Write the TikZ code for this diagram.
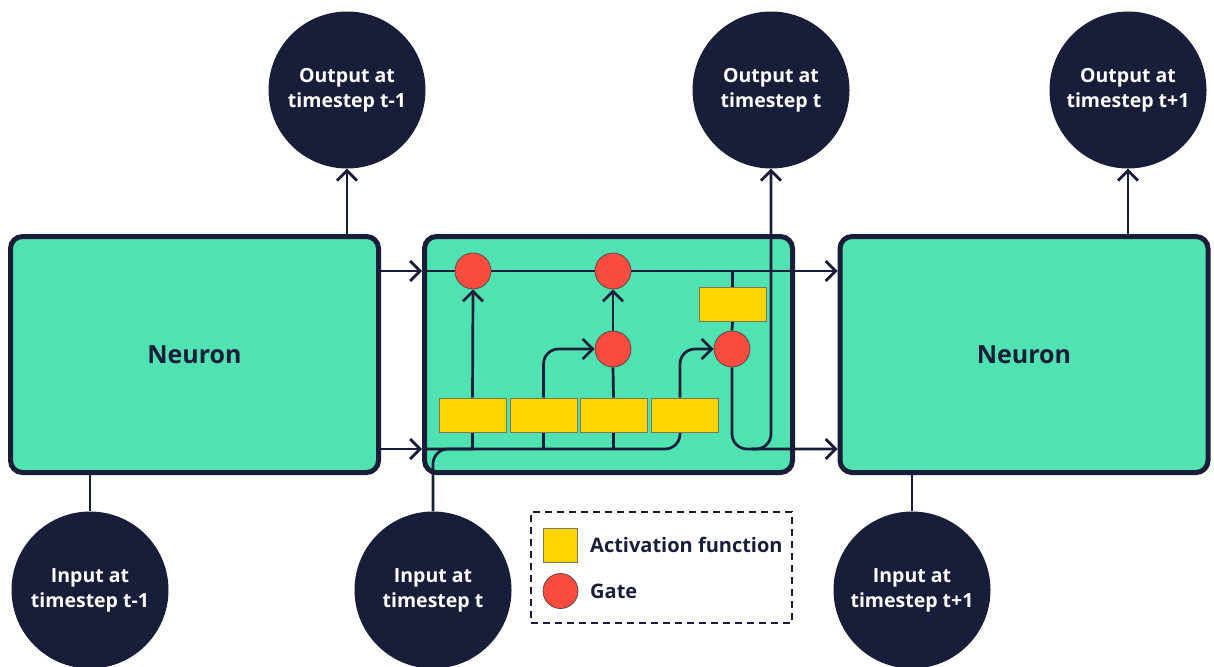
\documentclass[tikz,border=0pt]{standalone}
\usepackage{fontspec}
\setmainfont{Open Sans}
\usetikzlibrary{arrows.meta}
\pgfdeclarelayer{back}
\pgfdeclarelayer{wires}
\pgfsetlayers{back,wires,main}
\definecolor{navy}{RGB}{24,30,58}
\definecolor{mint}{RGB}{80,226,176}
\definecolor{gatered}{RGB}{250,76,62}
\definecolor{gateedge}{RGB}{95,70,80}
\definecolor{actyellow}{RGB}{255,212,0}
\definecolor{actedge}{RGB}{120,120,95}
\begin{document}
\begin{tikzpicture}[x=1pt,y=-1pt,
  neuron/.style={draw=navy, fill=mint, line width=5pt, rounded corners=12pt,
    minimum width=368pt, minimum height=236pt, inner sep=0pt,
    text=navy, font=\bfseries\fontsize{25}{30}\selectfont},
  bubble/.style={circle, fill=navy, minimum size=157pt, inner sep=0pt,
    text=white, align=center, font=\bfseries\fontsize{19.5}{25}\selectfont},
  gate/.style={circle, fill=gatered, draw=gateedge, line width=0.8pt,
    minimum size=36pt, inner sep=0pt},
  act/.style={rectangle, fill=actyellow, draw=actedge, line width=0.8pt,
    minimum width=67pt, minimum height=34pt, inner sep=0pt},
  wire/.style={draw=navy, line width=2.7pt, line join=round},
  flow/.style={wire, -{Straight Barb[length=10pt,width=20pt,line width=2.7pt]}},
  legendtext/.style={anchor=west, text=navy, inner sep=0pt,
    font=\bfseries\fontsize{20}{24}\selectfont}]
\useasboundingbox (0,0) rectangle (1214,666);

% neuron cells
\begin{pgfonlayer}{back}
  \node[neuron] (L) at (194.5,354.5) {Neuron};
  \node[neuron] (M) at (608.5,354.5) {};
  \node[neuron] (R) at (1024,354.5) {Neuron};
\end{pgfonlayer}

% outputs and inputs
\node[bubble] (O1) at (347,90) {Output at\\timestep t-1};
\node[bubble] (O2) at (771,90) {Output at\\timestep t};
\node[bubble] (O3) at (1128,90) {Output at\\timestep t+1};
\node[bubble] (I1) at (90,590) {Input at\\timestep t-1};
\node[bubble] (I2) at (433,590) {Input at\\timestep t};
\node[bubble] (I3) at (912,590) {Input at\\timestep t+1};

% gates and activation functions inside the cell
\node[gate] (g1) at (473,271) {};
\node[gate] (g2) at (613,271) {};
\node[gate] (gm) at (613,349) {};
\node[gate] (g3) at (732,349) {};
\node[act] (a1) at (472.5,415) {};
\node[act] (a2) at (543.5,415) {};
\node[act] (a3) at (613.5,415) {};
\node[act] (a4) at (684.5,415) {};
\node[act] (a5) at (732.5,304) {};

% levels of the two horizontal lines
\coordinate (top) at (0,271);
\coordinate (bus) at (0,449);
\coordinate (a4in) at ([xshift=-4.5pt]a4.south);
\coordinate (a4out) at ([xshift=-4.5pt]a4.north);

\begin{pgfonlayer}{wires}
  % outer connections
  \draw[flow] (O1 |- L.north) -- (O1.south);
  \draw[flow] (O3 |- R.north) -- (O3.south);
  \draw[wire] (I1.north) -- (I1 |- L.south);
  \draw[wire] (I3.north) -- (I3 |- R.south);

  % upper line
  \draw[flow] (L.east |- top) -- (M.west |- top);
  \draw[wire] (M.west |- top) -- (g1) -- (g2);
  \draw[flow] (g2) -- (R.west |- top);

  % lower line
  \draw[flow] (L.east |- bus) -- (M.west |- bus);
  \draw[wire, rounded corners=15pt] (M.west |- bus) -- (a4in |- bus) -- (a4in);
  \draw[wire, rounded corners=15pt] (I2.north) -- (I2 |- bus) -- ([xshift=40pt]I2 |- bus);

  % activation branches
  \draw[wire] (a1 |- bus) -- (a1.south);
  \draw[flow] (a1.north) -- (g1.south);
  \draw[wire] (a2 |- bus) -- (a2.south);
  \draw[flow, rounded corners=15pt] (a2.north) |- (gm.west);
  \draw[wire] (a3 |- bus) -- (a3.south);
  \draw[wire] (a3.north) -- (gm.south);
  \draw[flow] (gm.north) -- (g2.south);
  \draw[flow, rounded corners=15pt] (a4out) |- (g3.west);
  \draw[wire] (a5 |- top) -- (a5.north);
  \draw[wire] (a5.south) -- (g3.north);

  % cell output
  \draw[flow, rounded corners=15pt] (g3.south) -- (g3 |- bus) -- (R.west |- bus);
  \draw[flow, rounded corners=15pt] ([xshift=20pt]g3 |- bus) -- (O2 |- bus) -- (O2.south);
\end{pgfonlayer}

% legend
\node[draw=navy, line width=2pt, dash pattern=on 7pt off 5pt,
  minimum width=261pt, minimum height=111pt, inner sep=0pt] (legend) at (661.5,567.5) {};
\node[act, minimum width=34pt, minimum height=34pt] (keyact) at (560.5,545) {};
\node[gate, minimum size=35pt] (keygate) at (560.5,591) {};
\node[legendtext] (keyacttext) at (590,545) {Activation function};
\node[legendtext] (keygatetext) at (590,591) {Gate};
\end{tikzpicture}
\end{document}
